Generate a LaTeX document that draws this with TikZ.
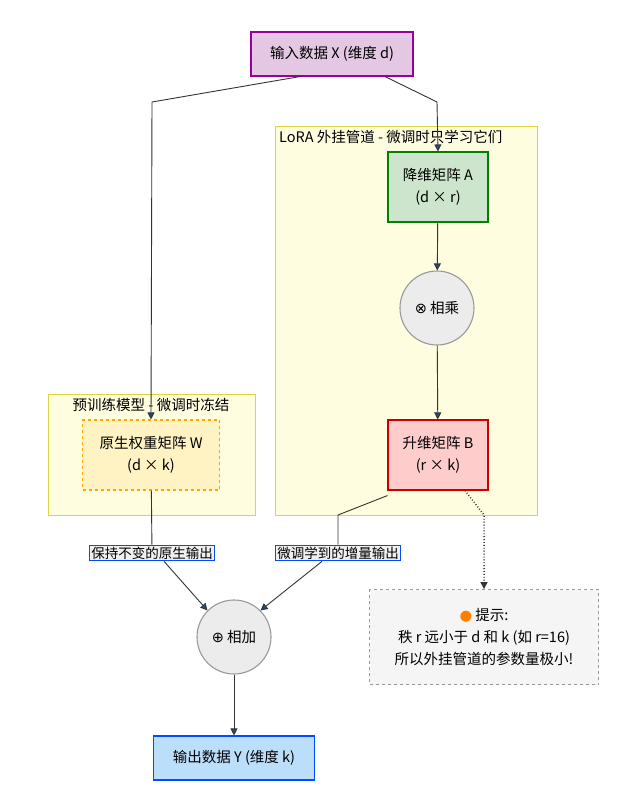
\documentclass[tikz,border=0pt]{standalone}
\usepackage{fontspec}
\setmainfont{Noto Sans CJK SC}
\newfontfamily\symfont{DejaVu Sans}
\usetikzlibrary{arrows.meta}
\definecolor{edgeC}{HTML}{333333}
\definecolor{tipC}{HTML}{1F4E79}
\definecolor{wFill}{HTML}{FFF3C4}
\definecolor{yFill}{HTML}{BBDEFB}
\begin{document}
\begin{tikzpicture}[
    x=1pt, y=-1pt,
    font=\fontsize{14.5}{22}\selectfont,
    box/.style={draw, line width=1.1pt, align=center, inner sep=0pt},
    cluster/.style={draw=yellow!55!olive!70, fill=yellow!12, line width=0.8pt},
    lbl/.style={draw=blue!70!cyan, fill=gray!12, line width=1.1pt, inner sep=1.5pt, font=\fontsize{13.5}{15}\selectfont},
    op/.style={circle, draw=gray!80, fill=gray!15, line width=1.1pt, minimum size=74pt, inner sep=0pt},
    flow/.style={draw=edgeC, line width=0.9pt, -{Triangle[length=7pt,width=7pt,fill=tipC]}},
    plain/.style={draw=edgeC, line width=0.9pt}]
    \useasboundingbox (0,0) rectangle (640,806);
    % Gruppen
    \draw[cluster] (275,126) rectangle (537,515);
    \node[anchor=north west, inner sep=2pt] at (277,128) {LoRA 外挂管道 - 微调时只学习它们};
    \draw[cluster] (48,394) rectangle (255,515);
    \node[anchor=north, inner sep=2pt] at (151,396) {预训练模型 - 微调时冻结};

    % Knoten
    \node[box, draw=violet!80!magenta, fill=violet!22!white, minimum width=162pt, minimum height=44pt] (X) at (332,54) {输入数据 X (维度 d)};
    \node[box, draw=green!50!black, fill=green!50!black!20!white, minimum width=100pt, minimum height=70pt] (A) at (438,187) {降维矩阵 A\\(d × r)};
    \node[op] (mul) at (437,308) {{\symfont ⊗} 相乘};
    \node[box, draw=red!80!black, fill=red!20!white, minimum width=100pt, minimum height=70pt] (B) at (438,455) {升维矩阵 B\\(r × k)};
    \node[box, draw=orange!70!yellow, fill=wFill, dashed, minimum width=137pt, minimum height=70pt] (W) at (151,455) {原生权重矩阵 W\\(d × k)};
    \node[lbl] (keep) at (152,553) {保持不变的原生输出};
    \node[lbl] (delta) at (338,553) {微调学到的增量输出};
    \node[op] (add) at (234,637) {{\symfont ⊕} 相加};
    \node[box, draw=blue!70!cyan, fill=yFill, minimum width=161pt, minimum height=44pt] (Y) at (234,758) {输出数据 Y (维度 k)};
    \node[draw=gray!80, fill=gray!8, dashed, line width=0.9pt, minimum width=229pt, minimum height=95pt, align=center] (tip) at (484,637) {{\symfont\color{orange}●} 提示:\\秩 r 远小于 d 和 k (如 r=16)\\所以外挂管道的参数量极小!};

    % Kanten
    \draw[flow] ([xshift=-32pt]X.south) -- (152,102) -- (W.north);
    \draw[flow] ([xshift=53pt]X.south) -- (437,102) -- (A.north);
    \draw[flow] (A) -- (mul);
    \draw[flow] (mul) -- (B);
    \draw[plain] (W) -- (keep);
    \draw[flow] (keep.south) ++(12,0) -- (add.north west);
    \draw[plain] ([yshift=-5pt]B.south west) -- (338,515) -- (delta.north);
    \draw[flow] (delta.south) ++(-16,0) -- (add.north east);
    \draw[flow, dotted, line width=1.5pt] ([xshift=27pt]B.south) -- (484,515) -- (tip.north);
    \draw[flow] (add) -- (Y);
\end{tikzpicture}
\end{document}
